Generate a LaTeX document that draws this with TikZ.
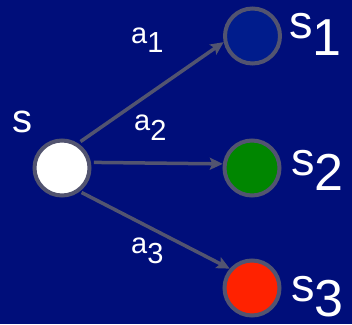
\documentclass[tikz,border=0pt]{standalone}
\usepackage{fontspec}
\setmainfont{Liberation Sans}
\usetikzlibrary{arrows.meta}
\definecolor{navy}{RGB}{0,14,122}
\definecolor{deepblue}{RGB}{0,28,140}
\definecolor{leaf}{RGB}{0,134,0}
\definecolor{flame}{RGB}{255,34,0}
\definecolor{rim}{RGB}{82,84,112}
\begin{document}
\begin{tikzpicture}[x=1pt,y=-1pt,
  state/.style={circle,draw=rim,line width=4pt,minimum size=55pt,inner sep=0pt},
  link/.style={draw=rim,line width=3.5pt,-{Stealth[length=13pt,width=12pt,inset=2.5pt]}},
  lbl/.style={text=white,inner sep=0pt,anchor=base west}]
  \fill[navy] (0,0) rectangle (352,324);
  \useasboundingbox (0,0) rectangle (352,324);

  % states
  \node[state,fill=white]     (s)  at (62,168) {};
  \node[state,fill=deepblue]  (s1) at (252.5,36) {};
  \node[state,fill=leaf]      (s2) at (252,168) {};
  \node[state,fill=flame]     (s3) at (252,288) {};

  % actions
  \draw[link,shorten <=3pt] (s.57)  -- (s1.192);
  \draw[link,shorten <=3pt] (s.11)  -- (s2.172);
  \draw[link,shorten <=2pt] (s.-53) -- (s3.139);

  % labels
  \node[lbl,font=\fontsize{40}{40}\selectfont] (ls) at (12,132) {s};
  \node[lbl,font=\fontsize{29}{29}\selectfont] (la1) at (131,43) {a\raisebox{-9pt}{1}};
  \node[lbl,font=\fontsize{29}{29}\selectfont] (la2) at (134,130) {a\raisebox{-10pt}{2}};
  \node[lbl,font=\fontsize{29}{29}\selectfont] (la3) at (131,253) {a\raisebox{-10pt}{3}};
  \node[lbl,font=\fontsize{47}{47}\selectfont] (ls1) at (289,38) {s\raisebox{-17pt}{\fontsize{52}{52}\selectfont 1}};
  \node[lbl,font=\fontsize{47}{47}\selectfont] (ls2) at (291,175) {s\raisebox{-15pt}{\fontsize{52}{52}\selectfont 2}};
  \node[lbl,font=\fontsize{47}{47}\selectfont] (ls3) at (291,301) {s\raisebox{-15pt}{\fontsize{52}{52}\selectfont 3}};
\end{tikzpicture}
\end{document}
